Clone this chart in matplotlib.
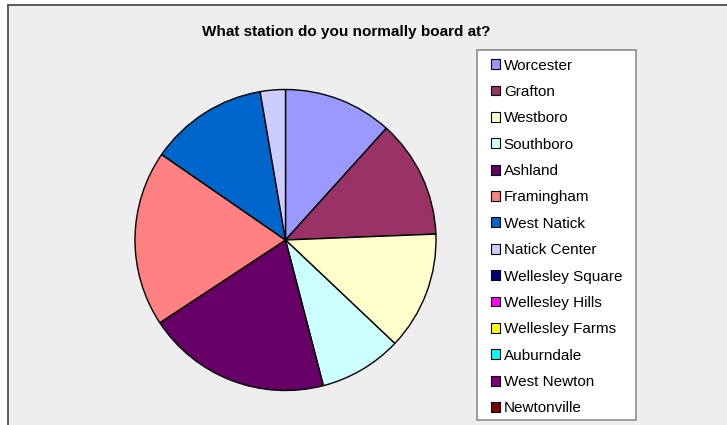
import matplotlib
matplotlib.use("Agg")
import matplotlib.pyplot as plt
from matplotlib.patches import Rectangle, Patch
from matplotlib.lines import Line2D

plt.rcParams["font.family"] = ["Liberation Sans", "DejaVu Sans"]

# Survey answers: share of riders by boarding station (percent)
stations = ["Worcester", "Grafton", "Westboro", "Southboro", "Ashland",
            "Framingham", "West Natick", "Natick Center", "Wellesley Square",
            "Wellesley Hills", "Wellesley Farms", "Auburndale", "West Newton",
            "Newtonville"]
shares = [11.7, 12.7, 12.7, 8.9, 19.8, 18.9, 12.7, 2.7,
          0, 0, 0, 0, 0, 0]
colors = ["#9999FF", "#993366", "#FFFFCC", "#CCFFFF", "#660066", "#FF8080",
          "#0066CC", "#CCCCFF", "#000080", "#FF00FF", "#FFFF00", "#00FFFF",
          "#800080", "#800000"]
title = "What station do you normally board at?"

W, H = 727, 425
fig = plt.figure(figsize=(W / 100, H / 100), dpi=100, facecolor="white")


def fx(px):
    return px / W


def fy(py):
    return 1 - py / H


# chart area background with its top/left border
fig.patches.append(Rectangle((fx(8), 0), 1 - fx(8), fy(4.5),
                             transform=fig.transFigure, facecolor="#EEEEEE",
                             edgecolor="none", zorder=-2))
fig.add_artist(Line2D([fx(8), fx(8)], [0, fy(4.5)], color="#505050", lw=1.3,
                      transform=fig.transFigure, zorder=-1))
fig.add_artist(Line2D([fx(8), 1], [fy(4.5), fy(4.5)], color="#505050", lw=1.3,
                      transform=fig.transFigure, zorder=-1))

fig.text(fx(346), fy(32), title, ha="center", va="center",
         fontsize=11, fontweight="bold", color="black")

# pie
cx, cy, r, pad = 285.5, 240.0, 150.5, 6.0
ax = fig.add_axes([fx(cx - r - pad), fy(cy + r + pad),
                   (2 * (r + pad)) / W, (2 * (r + pad)) / H])
ax.set_facecolor("none")
vals = [v for v in shares if v > 0]
cols = [c for v, c in zip(shares, colors) if v > 0]
ax.pie(vals, colors=cols, startangle=90, counterclock=False, radius=1.0,
       wedgeprops=dict(edgecolor="black", linewidth=1.0))
lim = (r + pad) / r
ax.set_xlim(-lim, lim)
ax.set_ylim(-lim, lim)
ax.set_aspect("equal")
ax.axis("off")

# legend
fig.patches.append(Rectangle((fx(477), fy(420)), fx(636) - fx(477),
                             fy(50) - fy(420), transform=fig.transFigure,
                             facecolor="white", edgecolor="#8C8C8C", lw=1.2,
                             zorder=1))
handles = [Patch(facecolor=c, edgecolor="black", lw=0.8) for c in colors]
fig.legend(handles, stations, loc="upper left",
           bbox_to_anchor=(fx(491), fy(58.5)), frameon=False, fontsize=11,
           labelspacing=0.81, handlelength=0.62, handleheight=0.62,
           handletextpad=0.22, borderpad=0, borderaxespad=0)

fig.savefig("out.png", dpi=100, facecolor=fig.get_facecolor())
